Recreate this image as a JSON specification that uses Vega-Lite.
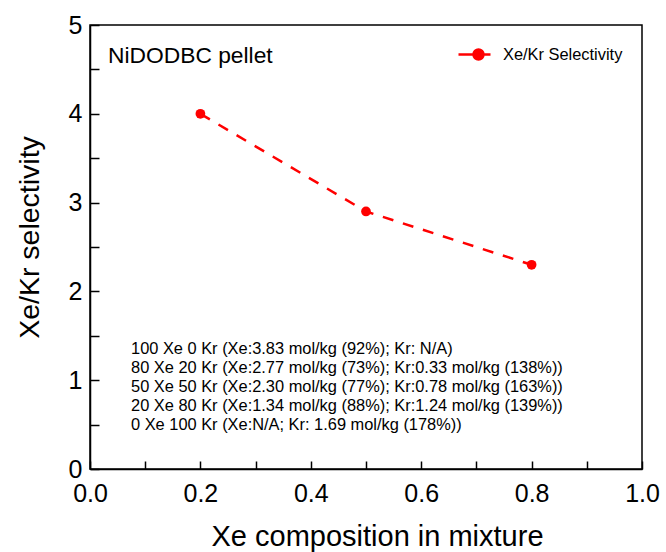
{
  "$schema": "https://vega.github.io/schema/vega-lite/v6.json",
  "width": 552,
  "height": 444,
  "autosize": {"type": "none"},
  "padding": {"left": 90, "top": 25, "right": 24, "bottom": 83},
  "background": "white",
  "config": {
    "font": "Liberation Sans",
    "view": {"stroke": "black", "strokeWidth": 1.5},
    "axis": {"grid": false, "zindex": 1, "ticks": true, "domainColor": "black", "domainWidth": 1.5, "tickColor": "black", "tickWidth": 1.5, "tickOpacity": 1, "labelColor": "black", "titleColor": "black", "labelFont": "Liberation Sans", "titleFont": "Liberation Sans", "titleFontWeight": "normal"}
  },
  "datasets": {
    "sel": [
      {"x": 0.2, "y": 4.0, "series": "Xe/Kr Selectivity"},
      {"x": 0.5, "y": 2.9, "series": "Xe/Kr Selectivity"},
      {"x": 0.8, "y": 2.3, "series": "Xe/Kr Selectivity"}
    ],
    "title": [
      {"x": 0.0326, "y": 4.572, "label": "NiDODBC pellet"}
    ],
    "notes": [
      {"x": 0.0743, "y": 1.295, "label": "100 Xe 0 Kr (Xe:3.83 mol/kg (92%); Kr: N/A)"},
      {"x": 0.0743, "y": 1.085, "label": "80 Xe 20 Kr (Xe:2.77 mol/kg (73%); Kr:0.33 mol/kg (138%))"},
      {"x": 0.0743, "y": 0.867, "label": "50 Xe 50 Kr (Xe:2.30 mol/kg (77%); Kr:0.78 mol/kg (163%))"},
      {"x": 0.0743, "y": 0.653, "label": "20 Xe 80 Kr (Xe:1.34 mol/kg (88%); Kr:1.24 mol/kg (139%))"},
      {"x": 0.0743, "y": 0.44, "label": "0 Xe 100 Kr (Xe:N/A; Kr: 1.69 mol/kg (178%))"}
    ]
  },
  "layer": [
    {
      "data": {"name": "sel"},
      "mark": {"type": "line", "color": "#ff0000", "strokeWidth": 2.5, "strokeDash": [11, 10]},
      "encoding": {
        "x": {
          "field": "x", "type": "quantitative",
          "scale": {"domain": [0, 1], "nice": false, "zero": false},
          "axis": {
            "title": "Xe composition in mixture",
            "titleFontSize": 29,
            "titleX": 287,
            "titleY": 76,
            "titleBaseline": "alphabetic",
            "titleAnchor": "middle",
            "titleAlign": "center",
            "values": [0, 0.1, 0.2, 0.3, 0.4, 0.5, 0.6, 0.7, 0.8, 0.9, 1.0],
            "labelExpr": "abs(datum.value*5 - round(datum.value*5)) < 0.000001 ? format(datum.value, '.1f') : ''",
            "labelFontSize": 25,
            "labelPadding": 20,
            "labelFlush": false,
            "labelOverlap": false,
            "tickSize": -8,
            "encode": {"ticks": {"update": {"y2": {"signal": "abs(datum.value*5 - round(datum.value*5)) < 0.000001 ? -8 : -5"}}}}
          }
        },
        "y": {
          "field": "y", "type": "quantitative",
          "scale": {"domain": [0, 5], "nice": false, "zero": false},
          "axis": {
            "title": "Xe/Kr selectivity",
            "titleFontSize": 28.5,
            "titleX": -52,
            "titleY": 212,
            "titleBaseline": "alphabetic",
            "titleAnchor": "middle",
            "titleAlign": "center",
            "values": [0, 0.5, 1, 1.5, 2, 2.5, 3, 3.5, 4, 4.5, 5],
            "labelExpr": "abs(datum.value - round(datum.value)) < 0.000001 ? format(datum.value, 'd') : ''",
            "labelFontSize": 25,
            "labelPadding": 17,
            "labelFlush": false,
            "labelOverlap": false,
            "tickSize": -9,
            "encode": {"ticks": {"update": {"x2": {"signal": "abs(datum.value - round(datum.value)) < 0.000001 ? 9 : 6"}}}}
          }
        }
      }
    },
    {
      "data": {"name": "sel"},
      "mark": {"type": "point", "filled": true, "size": 95, "opacity": 1},
      "encoding": {
        "x": {"field": "x", "type": "quantitative"},
        "y": {"field": "y", "type": "quantitative"},
        "color": {
          "field": "series", "type": "nominal",
          "scale": {"range": ["#ff0000"]},
          "legend": {
            "title": null,
            "orient": "none",
            "legendX": 367,
            "legendY": 8,
            "padding": 0,
            "labelFontSize": 16.4,
            "labelFont": "Liberation Sans",
            "labelColor": "#000000",
            "labelOffset": 3,
            "symbolType": "M-1,0H-0.25M0.25,0H0.6M0.25,0A0.25,0.25,0,1,1,-0.25,0A0.25,0.25,0,1,1,0.25,0Z",
            "symbolSize": 1600,
            "symbolStrokeWidth": 2.5,
            "symbolFillColor": "#ff0000",
            "symbolStrokeColor": "#ff0000",
            "symbolOpacity": 1
          }
        }
      }
    },
    {
      "data": {"name": "title"},
      "mark": {"type": "text", "fontSize": 22.8, "font": "Liberation Sans", "align": "left", "baseline": "alphabetic", "color": "#000000"},
      "encoding": {
        "x": {"field": "x", "type": "quantitative"},
        "y": {"field": "y", "type": "quantitative"},
        "text": {"field": "label"}
      }
    },
    {
      "data": {"name": "notes"},
      "mark": {"type": "text", "fontSize": 16.4, "font": "Liberation Sans", "align": "left", "baseline": "alphabetic", "color": "#000000"},
      "encoding": {
        "x": {"field": "x", "type": "quantitative"},
        "y": {"field": "y", "type": "quantitative"},
        "text": {"field": "label"}
      }
    }
  ]
}
